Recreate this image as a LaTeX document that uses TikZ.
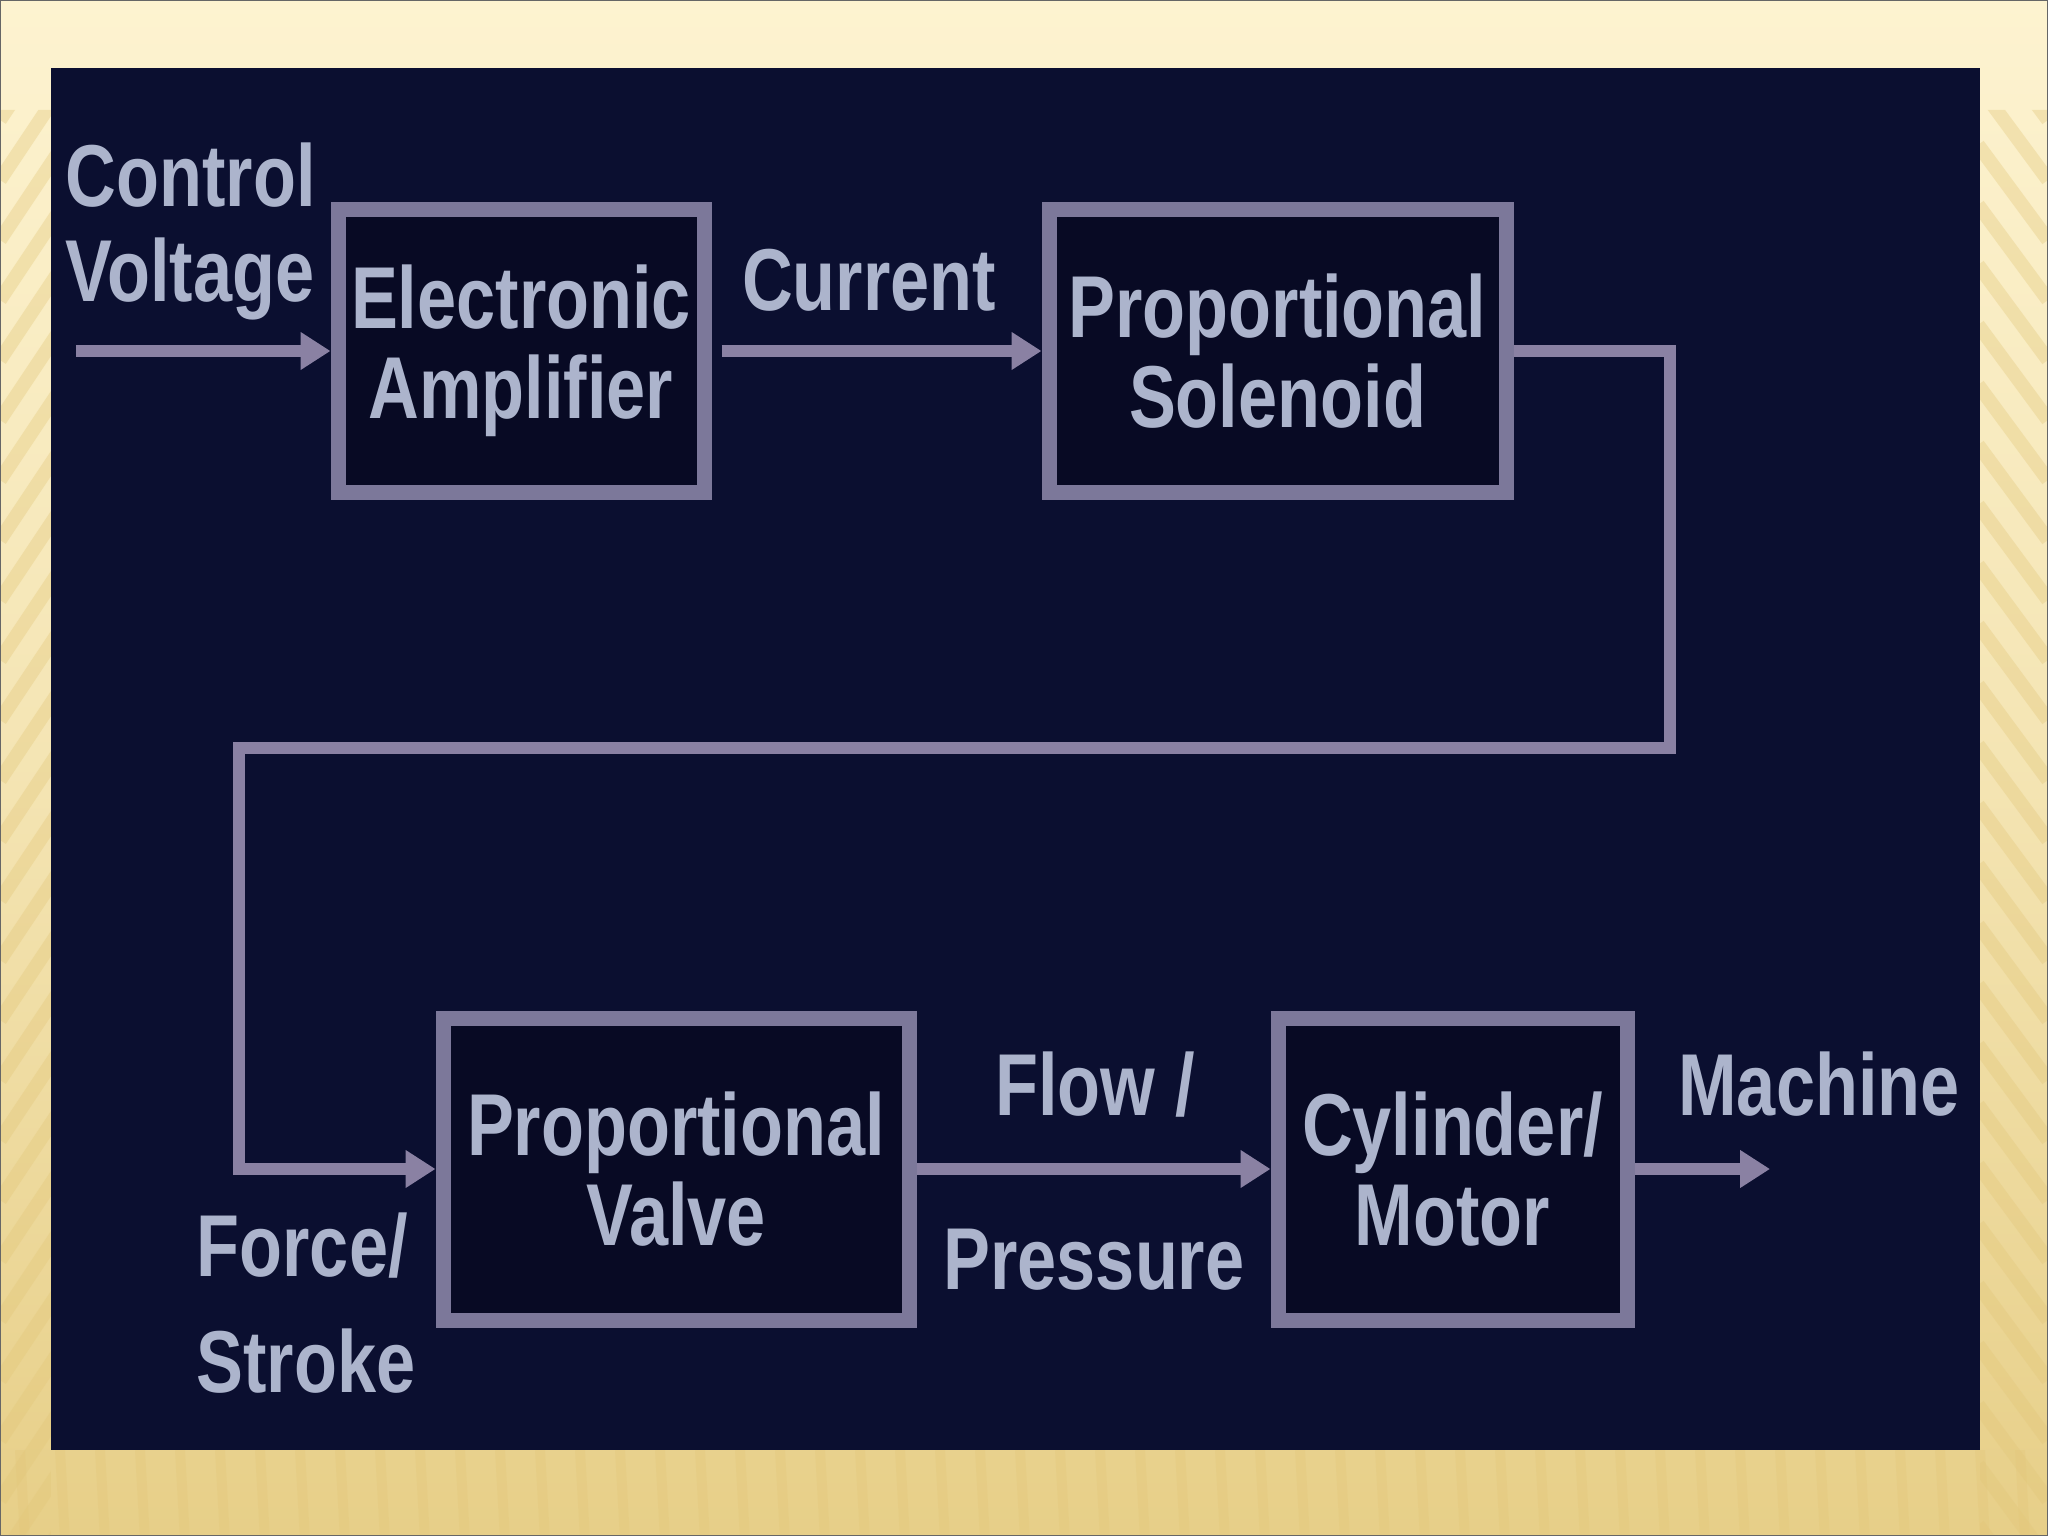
\documentclass[tikz,border=0pt]{standalone}
\usepackage{fontspec}
\usetikzlibrary{arrows.meta,positioning}
\newfontfamily\diagfont[FakeStretch=0.8]{Liberation Sans}
\definecolor{slideCream}{RGB}{253,243,208}
\definecolor{slideGold}{RGB}{231,207,136}
\definecolor{slideStripe}{RGB}{226,198,120}
\definecolor{panelNavy}{RGB}{11,15,48}
\definecolor{boxNavy}{RGB}{8,10,36}
\definecolor{boxLine}{RGB}{124,120,154}
\definecolor{arrowLine}{RGB}{138,129,163}
\definecolor{labelGrey}{RGB}{172,180,204}
\colorlet{cream}{slideCream}
\colorlet{gold}{slideGold}
\colorlet{navy}{panelNavy}

\begin{document}
\begin{tikzpicture}[>={Triangle[length=0.3cm,width=0.36cm]},
  block/.style={draw=boxLine,line width=0.15cm,fill=boxNavy,inner sep=0pt,text=labelGrey,align=center,font={\diagfont\bfseries\fontsize{25}{25.5}\selectfont}},
  lbl/.style={inner sep=0pt,text=labelGrey,font={\diagfont\bfseries\fontsize{25}{27}\selectfont}},
  flow/.style={->,draw=arrowLine,line width=0.12cm}]
\useasboundingbox (0,0) rectangle (20.48,-15.36);
% slide background
\shade[top color=cream,bottom color=gold,middle color=cream!60!gold] (0,0) rectangle (20.48,-15.36);
\begin{scope}
\clip (0,-1.1) rectangle (0.51,-15.36) (19.80,-1.1) rectangle (20.48,-15.36);
\foreach \yy in {0,0.6,...,16.8}{
  \draw[slideStripe,opacity=0.35,line width=0.14cm] (0,-\yy) -- ++(0.6,0.9);
  \draw[slideStripe,opacity=0.35,line width=0.14cm] (20.48,-\yy) -- ++(-0.7,0.95);
}
\end{scope}
\begin{scope}
\clip (0,-14.50) rectangle (20.48,-15.36);
\foreach \xx in {0.2,0.6,...,20.4}
  \draw[slideStripe,opacity=0.3,line width=0.1cm] (\xx,-14.5) -- ++(0.05,-0.9);
\end{scope}
\fill[navy] (0.51,-0.68) rectangle (19.80,-14.50);
\draw[black!60,line width=0.6pt] (0,0) rectangle (20.48,-15.36);

% blocks
\node[block,minimum width=3.66cm,minimum height=2.83cm] (amp) at (5.21,-3.51) {Electronic\\Amplifier};
\node[block,minimum width=4.57cm,minimum height=2.83cm,right=3.30cm of amp] (sol) {Proportional\\Solenoid};
\node[block,minimum width=4.66cm,minimum height=3.02cm] (valve) at (6.76,-11.69) {Proportional\\Valve};
\node[block,minimum width=3.49cm,minimum height=3.02cm,right=3.54cm of valve] (cyl) {Cylinder/\\Motor};

% free ends and bends
\coordinate (vin) at (0.76,-3.51);
\coordinate (riseR) at (16.70,-7.48);
\coordinate (riseL) at (2.39,-7.48);
\coordinate (vout) at (17.70,-11.69);

\draw[flow] (vin) -- (amp);
\draw[flow,shorten <=0.1cm] (amp) -- (sol);
\draw[flow] (sol.east) -| (riseR) -- (riseL) |- (valve.west);
\draw[flow] (valve) -- (cyl);
\draw[flow] (cyl) -- (vout);

% labels
\node[lbl,anchor=north west,align=left] (cv) at (0.65,-1.42) {Control\\Voltage};
\node[lbl,anchor=north] (cur) at (8.69,-2.48) {Current};
\node[lbl,anchor=north] (flw) at (10.95,-10.51) {Flow /};
\node[lbl,anchor=north] (prs) at (10.94,-12.28) {Pressure};
\node[lbl,anchor=north] (mach) at (18.19,-10.51) {Machine};
\node[lbl,anchor=north west,align=left,font={\diagfont\bfseries\fontsize{25}{33}\selectfont}] (fs) at (1.96,-12.12) {Force/\\Stroke};
\end{tikzpicture}
\end{document}
